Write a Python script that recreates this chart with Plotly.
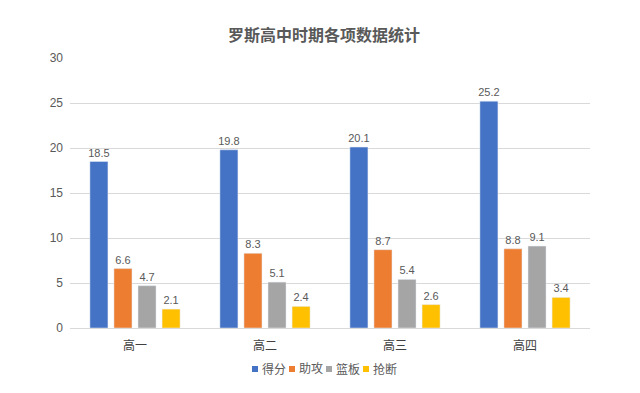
import plotly.graph_objects as go

categories = ["高一", "高二", "高三", "高四"]
series_names = ["得分", "助攻", "篮板", "抢断"]
points = [18.5, 19.8, 20.1, 25.2]
assists = [6.6, 8.3, 8.7, 8.8]
rebounds = [4.7, 5.1, 5.4, 9.1]
steals = [2.1, 2.4, 2.6, 3.4]
colors = ["#4472C4", "#ED7D31", "#A5A5A5", "#FFC000"]

font_family = "Liberation Sans, Noto Sans CJK SC, sans-serif"

# figure is offset 8px by the page body margin
W, H = 632, 385
L, R, T, B = 62, 50, 50, 65
plot_w = W - L - R
plot_h = H - T - B

fig = go.Figure()
for name, vals, c in zip(series_names, [points, assists, rebounds, steals], colors):
    fig.add_trace(go.Bar(
        x=categories, y=vals, name=name, marker_color=c, showlegend=False,
        text=[f"{v:.1f}" for v in vals], textposition="outside",
        constraintext="none",
        textfont=dict(size=11, color="#595959", family=font_family), cliponaxis=False,
    ))

# custom legend (small squares + labels), like the original
shapes = []
annotations = []
x_start = 244  # px in figure coords
step = 37
sq = 6
y_mid = -41 / plot_h
for i, (name, c) in enumerate(zip(series_names, colors)):
    x0 = (x_start + step * i - L) / plot_w
    x1 = (x_start + step * i + sq - L) / plot_w
    shapes.append(dict(type="rect", xref="paper", yref="paper",
                       x0=x0, x1=x1, y0=y_mid - 3 / plot_h, y1=y_mid + 3 / plot_h,
                       fillcolor=c, line=dict(width=0)))
    annotations.append(dict(xref="paper", yref="paper", x=x1 + 2 / plot_w, y=y_mid,
                            xanchor="left", yanchor="middle", text=name, showarrow=False,
                            font=dict(size=12, color="#595959", family=font_family)))

fig.update_layout(
    width=W, height=H,
    margin=dict(l=L, r=R, t=T, b=B),
    paper_bgcolor="white", plot_bgcolor="white",
    font=dict(family=font_family, color="#595959", size=12),
    title=dict(text="<b>罗斯高中时期各项数据统计</b>", x=0.5, xanchor="center",
               y=1 - 27 / H, yanchor="middle", font=dict(size=16, color="#595959")),
    barmode="group", bargap=0.26, bargroupgap=0.25,
    showlegend=False,
    shapes=shapes, annotations=annotations,
    xaxis=dict(showgrid=False, showline=True, linecolor="#D9D9D9",
               ticks="", ticklabelstandoff=7, tickfont=dict(size=12, color="#404040")),
    yaxis=dict(range=[0, 30], dtick=5, showgrid=True, gridcolor="#D9D9D9",
               zeroline=False, showline=False, ticks="", ticklabelstandoff=6,
               tickfont=dict(size=12, color="#595959")),
)

fig.write_html("out.html")
